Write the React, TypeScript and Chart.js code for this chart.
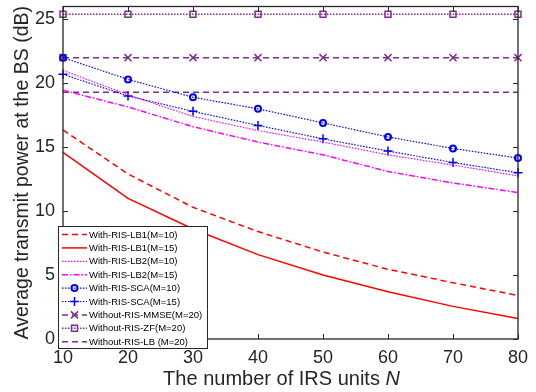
import React, { useEffect, useRef } from 'react';
import { Chart, registerables } from 'chart.js';

Chart.register(...registerables);

// ---- data ----
const N_UNITS = [10, 20, 30, 40, 50, 60, 70, 80];
const LB1_M10 = [16.35, 12.9, 10.3, 8.4, 6.8, 5.45, 4.4, 3.4];
const LB1_M15 = [14.6, 11.0, 8.6, 6.6, 5.0, 3.7, 2.55, 1.6];
const LB2_M10 = [21.0, 19.1, 17.4, 16.3, 15.4, 14.4, 13.6, 12.75];
const LB2_M15 = [19.45, 18.15, 16.6, 15.4, 14.4, 13.1, 12.2, 11.45];
const SCA_M10 = [22.0, 20.3, 18.9, 18.0, 16.9, 15.8, 14.9, 14.15];
const SCA_M15 = [20.7, 19.0, 17.8, 16.7, 15.65, 14.7, 13.8, 13.0];
const MMSE_M20 = [22.0, 22.0, 22.0, 22.0, 22.0, 22.0, 22.0, 22.0];
const ZF_M20 = [25.4, 25.4, 25.4, 25.4, 25.4, 25.4, 25.4, 25.4];
const LB_M20 = [19.3, 19.3, 19.3, 19.3, 19.3, 19.3, 19.3, 19.3];
const Y_TICKS = [0, 5, 10, 15, 20, 25];
const X_TICKS = [10, 20, 30, 40, 50, 60, 70, 80];
const Y_MIN = 0;
const Y_MAX = 26;

const X_TITLE = 'The number of IRS units ';
const X_TITLE_VAR = 'N';
const Y_TITLE = 'Average transmit power at the BS (dB)';

const RED = '#ff0000';
const MAG = '#ff00ff';
const BLUE = '#0000ff';
const PURPLE = '#7e2f8e';
const AXIS = '#262626';
const FONT = '"Liberation Sans", Arial, Helvetica, sans-serif';

type Series = {
  label: string;
  values: number[];
  color: string;
  dash: number[];
  width: number;
  marker: string | null;
  radius: number;
};

const SERIES: Series[] = [
  { label: 'With-RIS-LB1(M=10)', values: LB1_M10, color: RED, dash: [6, 4], width: 1.5, marker: null, radius: 0 },
  { label: 'With-RIS-LB1(M=15)', values: LB1_M15, color: RED, dash: [], width: 1.5, marker: null, radius: 0 },
  { label: 'With-RIS-LB2(M=10)', values: LB2_M10, color: MAG, dash: [1.5, 1.5], width: 1.2, marker: null, radius: 0 },
  { label: 'With-RIS-LB2(M=15)', values: LB2_M15, color: MAG, dash: [6, 2, 1.5, 2], width: 1.5, marker: null, radius: 0 },
  { label: 'With-RIS-SCA(M=10)', values: SCA_M10, color: BLUE, dash: [1.5, 1.5], width: 1.2, marker: 'circle', radius: 3 },
  { label: 'With-RIS-SCA(M=15)', values: SCA_M15, color: BLUE, dash: [1.5, 1.5], width: 1.2, marker: 'cross', radius: 4.5 },
  { label: 'Without-RIS-MMSE(M=20)', values: MMSE_M20, color: PURPLE, dash: [6, 4], width: 1.5, marker: 'crossRot', radius: 5 },
  { label: 'Without-RIS-ZF(M=20)', values: ZF_M20, color: PURPLE, dash: [1.5, 1.5], width: 1.5, marker: 'rect', radius: 4.2 },
  { label: 'Without-RIS-LB (M=20)', values: LB_M20, color: PURPLE, dash: [6, 4], width: 1.5, marker: null, radius: 0 },
];

function drawMarker(ctx: CanvasRenderingContext2D, style: string, x: number, y: number, color: string) {
  ctx.save();
  ctx.setLineDash([]);
  ctx.strokeStyle = color;
  ctx.lineWidth = 1.5;
  ctx.beginPath();
  if (style === 'circle') {
    ctx.lineWidth = 2;
    ctx.arc(x, y, 3, 0, Math.PI * 2);
  } else if (style === 'cross') {
    ctx.moveTo(x - 4.5, y); ctx.lineTo(x + 4.5, y);
    ctx.moveTo(x, y - 4.5); ctx.lineTo(x, y + 4.5);
  } else if (style === 'crossRot') {
    ctx.moveTo(x - 3.5, y - 3.5); ctx.lineTo(x + 3.5, y + 3.5);
    ctx.moveTo(x - 3.5, y + 3.5); ctx.lineTo(x + 3.5, y - 3.5);
  } else if (style === 'rect') {
    ctx.rect(x - 3, y - 3, 6, 6);
  }
  ctx.stroke();
  ctx.restore();
}

const framePlugin = {
  id: 'frameTicks',
  afterDatasetsDraw(chart: any) {
    const { ctx, chartArea: a, scales } = chart;
    ctx.save();
    ctx.strokeStyle = AXIS;
    ctx.lineWidth = 1.3;
    ctx.setLineDash([]);
    ctx.strokeRect(a.left, a.top, a.right - a.left, a.bottom - a.top);
    ctx.lineWidth = 1;
    ctx.beginPath();
    X_TICKS.forEach((v) => {
      const px = Math.round(scales.x.getPixelForValue(v)) + 0.5;
      ctx.moveTo(px, a.bottom); ctx.lineTo(px, a.bottom - 5);
      ctx.moveTo(px, a.top); ctx.lineTo(px, a.top + 5);
    });
    Y_TICKS.forEach((v) => {
      const py = Math.round(scales.y.getPixelForValue(v)) + 0.5;
      ctx.moveTo(a.left, py); ctx.lineTo(a.left + 5, py);
      ctx.moveTo(a.right, py); ctx.lineTo(a.right - 5, py);
    });
    ctx.stroke();
    ctx.restore();
  },
  afterDraw(chart: any) {
    const { ctx, chartArea: a } = chart;
    ctx.save();
    // x title
    ctx.fillStyle = AXIS;
    ctx.textBaseline = 'alphabetic';
    ctx.textAlign = 'left';
    ctx.font = '20px ' + FONT;
    const w1 = ctx.measureText(X_TITLE).width;
    ctx.font = 'italic 20px ' + FONT;
    const w2 = ctx.measureText(X_TITLE_VAR).width;
    const cx = (a.left + a.right) / 2 - 9;
    const sx = cx - (w1 + w2) / 2;
    ctx.font = '20px ' + FONT;
    ctx.fillText(X_TITLE, sx, 385);
    ctx.font = 'italic 20px ' + FONT;
    ctx.fillText(X_TITLE_VAR, sx + w1, 385);
    // y title
    ctx.save();
    ctx.translate(28, (a.top + a.bottom) / 2);
    ctx.rotate(-Math.PI / 2);
    ctx.textAlign = 'center';
    ctx.font = '19.5px ' + FONT;
    ctx.fillText(Y_TITLE, 0, 0);
    ctx.restore();

    // legend
    const bx = 58, by = 226, bw = 149, bh = 122;
    ctx.fillStyle = '#ffffff';
    ctx.fillRect(bx, by, bw, bh);
    ctx.strokeStyle = AXIS;
    ctx.lineWidth = 1;
    ctx.strokeRect(bx + 0.5, by + 0.5, bw, bh);
    ctx.font = '9.5px ' + FONT;
    ctx.textBaseline = 'middle';
    ctx.textAlign = 'left';
    chart.data.datasets.forEach((ds: any, i: number) => {
      const y = 234.5 + i * 13.4;
      ctx.save();
      ctx.strokeStyle = ds.borderColor;
      ctx.lineWidth = ds.borderWidth;
      ctx.setLineDash(ds.borderDash || []);
      ctx.beginPath();
      ctx.moveTo(62, y);
      ctx.lineTo(87, y);
      ctx.stroke();
      ctx.restore();
      if (ds.pointRadius > 0) drawMarker(ctx, ds.pointStyle, 74.5, y, ds.borderColor);
      ctx.fillStyle = '#000000';
      ctx.fillText(ds.label, 89, y + 0.5);
    });
    ctx.restore();
  },
};

export default function App() {
  const ref = useRef<HTMLCanvasElement | null>(null);
  useEffect(() => {
    if (!ref.current) return;
    const datasets = SERIES.map((s) => ({
      label: s.label,
      data: N_UNITS.map((n, i) => ({ x: n, y: s.values[i] })),
      borderColor: s.color,
      backgroundColor: s.color,
      borderWidth: s.width,
      borderDash: s.dash,
      pointStyle: s.marker || 'circle',
      pointRadius: s.radius,
      pointBorderWidth: s.marker === 'circle' ? 2 : 1.5,
      pointBackgroundColor: 'rgba(0,0,0,0)',
      pointBorderColor: s.color,
      tension: 0,
      fill: false,
      clip: false as any,
    }));
    const chart = new Chart(ref.current, {
      type: 'line',
      data: { datasets },
      options: {
        animation: false,
        responsive: false,
        devicePixelRatio: 1,
        events: [],
        layout: { padding: { top: 1, right: 18, left: 0, bottom: 0 } },
        plugins: { legend: { display: false }, tooltip: { enabled: false } },
        scales: {
          x: {
            type: 'linear',
            min: 10,
            max: 80,
            afterBuildTicks: (scale: any) => {
              scale.ticks = X_TICKS.map((v) => ({ value: v }));
            },
            afterFit: (scale: any) => {
              scale.height = 53;
              scale.paddingLeft = 0;
              scale.paddingRight = 0;
            },
            grid: { display: false, drawTicks: false },
            border: { display: false },
            ticks: {
              padding: 8,
              color: AXIS,
              font: { family: FONT, size: 18 },
              maxRotation: 0,
              autoSkip: false,
            },
          },
          y: {
            type: 'linear',
            min: Y_MIN,
            max: Y_MAX,
            afterBuildTicks: (scale: any) => {
              scale.ticks = Y_TICKS.map((v) => ({ value: v }));
            },
            afterFit: (scale: any) => {
              scale.width = 63;
              scale.paddingTop = 0;
              scale.paddingBottom = 0;
            },
            grid: { display: false, drawTicks: false },
            border: { display: false },
            ticks: {
              padding: 8,
              color: AXIS,
              font: { family: FONT, size: 18 },
              autoSkip: false,
            },
          },
        },
      },
      plugins: [framePlugin],
    });
    return () => chart.destroy();
  }, []);
  return (
    <div style={{ position: 'absolute', left: 0, top: 0, width: 536, height: 392, background: '#fff' }}>
      <canvas ref={ref} width={536} height={392} />
    </div>
  );
}
